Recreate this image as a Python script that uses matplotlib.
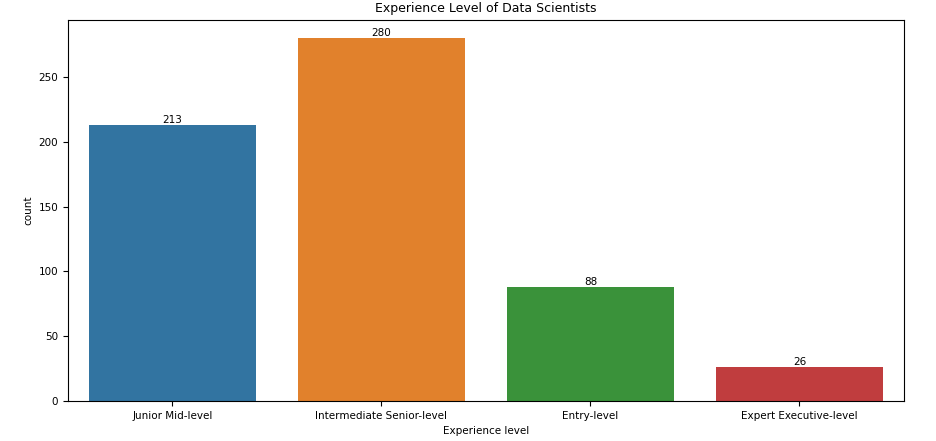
import matplotlib.pyplot as plt

levels = ["Junior Mid-level", "Intermediate Senior-level", "Entry-level", "Expert Executive-level"]
counts = [213, 280, 88, 26]
colors = ["#3274a1", "#e1812c", "#3a923a", "#c03d3e"]

plt.rcParams["font.size"] = 7.5
fig = plt.figure(figsize=(9.37, 4.41), dpi=100)
ax = fig.add_axes([68 / 937, 40 / 441, 836 / 937, 381 / 441])

x = range(len(levels))
bars = ax.bar(x, counts, width=0.8, color=colors)
ax.bar_label(bars, labels=[str(c) for c in counts], padding=0)
ax.set_xticks(list(x))
ax.set_xticklabels(levels)
ax.set_xlim(-0.5, len(levels) - 0.5)
ax.set_ylim(0, 294)
ax.set_xlabel("Experience level")
ax.set_ylabel("count")
ax.set_title("Experience Level of Data Scientists", fontsize=9)

fig.savefig("out.png", dpi=100)
